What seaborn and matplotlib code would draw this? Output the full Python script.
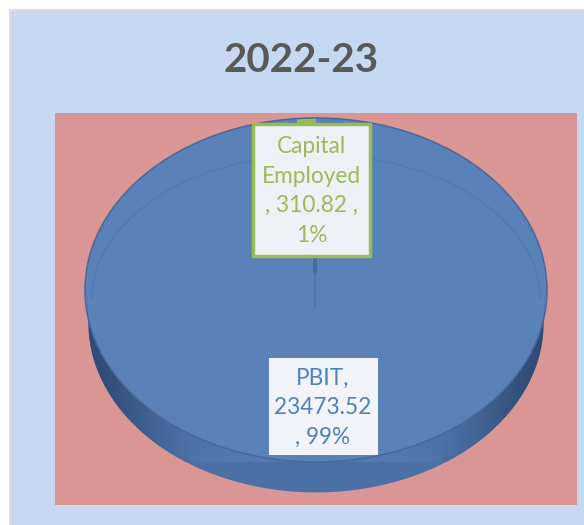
import numpy as np
import seaborn as sns
import matplotlib.pyplot as plt
from matplotlib.patches import Rectangle, Ellipse, Arc

W, H = 584, 525

title = "2022-23"
categories = ["PBIT", "Capital Employed"]
values = [23473.52, 310.82]
percents = ["99%", "1%"]
labels = ["PBIT,\n23473.52\n, 99%", "Capital\nEmployed\n, 310.82 ,\n1%"]

sns.set_theme(style="white")
plt.rcParams['font.family'] = ['Lato', 'DejaVu Sans']

blue, green = "#5a82b9", "#9bbb59"
palette = sns.color_palette([blue, green])

fig = plt.figure(figsize=(W / 100, H / 100), dpi=100, facecolor="white")


def px_axes(x0, y0, x1, y1, z):
    # axes placed by pixel box, top-left origin
    return fig.add_axes([x0 / W, 1 - y1 / H, (x1 - x0) / W, (y1 - y0) / H], zorder=z)


# background panels
bg = px_axes(0, 0, W, H, 0)
bg.set_xlim(0, W)
bg.set_ylim(H, 0)
bg.axis("off")
bg.add_patch(Rectangle((9.5, 9.5), W, H, fc="#c6d9f0", ec="#dcdcdc", lw=1.5))
bg.add_patch(Rectangle((55, 113), 522, 392, fc="#d99694", ec="none"))

# pie, squashed into an ellipse
ax = px_axes(85, 118, 547, 462, 1)
depth = 33 / 172

# side wall of the disc
wall, _ = ax.pie(values, colors=["#4a70a6"] * 2, startangle=90, counterclock=False,
                 radius=0.985, center=(0, -depth), wedgeprops={"linewidth": 0})
ramp = np.array([[0.0, 0.45, 0.8, 1.0, 1.0, 1.0, 1.0, 1.0, 1.0, 0.8, 0.45, 0.0]])
cmap = sns.blend_palette(["#2f4b74", "#5279b0"], as_cmap=True)
for w in wall:
    im = ax.imshow(ramp, extent=(-1, 1, -1 - depth, 1), cmap=cmap, aspect="auto",
                   interpolation="bicubic", zorder=1)
    im.set_clip_path(w)

# top face
wedges, _ = ax.pie(values, colors=palette, startangle=90, counterclock=False,
                   wedgeprops={"linewidth": 0})
for w in wedges:
    w.set_zorder(2)
ax.add_patch(Ellipse((0, 0), 2, 2, fc="none", ec="#46699a", lw=1.1, zorder=3))
ax.add_patch(Arc((0, -0.053), 1.94, 1.68, theta1=0, theta2=180, ec="#537ab1", lw=1.2, zorder=3))

# seam at the slice boundary
ax.plot([-0.004, -0.004], [0.21, 0.09], color="#44709f", lw=3, zorder=3, solid_capstyle="butt")
ax.plot([-0.004, -0.004], [0.09, -0.11], color="#4d78ad", lw=1.5, zorder=3, solid_capstyle="butt")

ax.set_aspect("auto")
ax.set_xlim(-1, 1)
ax.set_ylim(-1, 1)
for a in ax.patches:
    a.set_clip_on(False)
for a in ax.images:
    a.set_clip_on(True)

# labels and title
top = px_axes(0, 0, W, H, 2)
top.set_xlim(0, W)
top.set_ylim(H, 0)
top.axis("off")
top.patch.set_alpha(0)

top.add_patch(Rectangle((253, 124), 117, 132, fc="#eef2f7", ec=green, lw=2.5))
top.text(311.5, 191, labels[1], color=green, fontsize=16.3, ha="center", va="center",
         linespacing=1.51)
top.add_patch(Rectangle((269, 358), 108.5, 96.5, fc="#f1f4f9", ec="none"))
top.text(323, 408, labels[0], color="#4f81bd", fontsize=16.3, ha="center", va="center",
         linespacing=1.51)
top.text(301, 60, title, color="#595959", fontsize=29, fontweight="bold", ha="center", va="center")

fig.savefig("out.png", dpi=100)
